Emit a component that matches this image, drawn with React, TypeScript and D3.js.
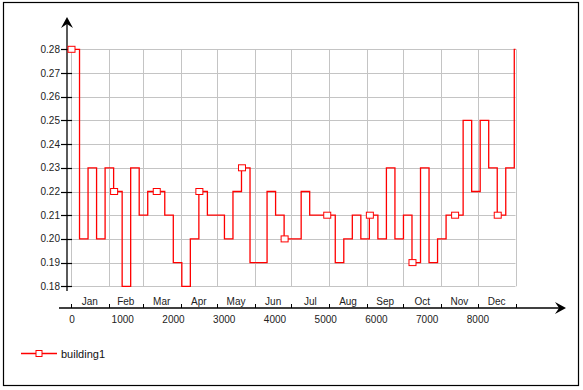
import { useEffect, useRef } from 'react';
import * as d3 from 'd3';

// weekly values, one per 168 hours (last week is a single day)
const weeklyValues = [
    0.28, 0.20, 0.23, 0.20, 0.23, 0.22, 0.18, 0.23, 0.21, 0.22,
    0.22, 0.21, 0.19, 0.18, 0.20, 0.22, 0.21, 0.21, 0.20, 0.22,
    0.23, 0.19, 0.19, 0.22, 0.21, 0.20, 0.20, 0.22, 0.21, 0.21,
    0.21, 0.19, 0.20, 0.21, 0.20, 0.21, 0.20, 0.23, 0.20, 0.21,
    0.19, 0.23, 0.19, 0.20, 0.21, 0.21, 0.25, 0.22, 0.25, 0.23,
    0.21, 0.23, 0.28,
];
const monthNames = ["Jan", "Feb", "Mar", "Apr", "May", "Jun", "Jul", "Aug", "Sep", "Oct", "Nov", "Dec"];
const monthEdges = [0, 744, 1416, 2160, 2880, 3624, 4344, 5088, 5832, 6552, 7296, 8016, 8760];
const hourTicks = [0, 1000, 2000, 3000, 4000, 5000, 6000, 7000, 8000];
const valueTicks = [0.18, 0.19, 0.20, 0.21, 0.22, 0.23, 0.24, 0.25, 0.26, 0.27, 0.28];
const seriesName = "building1";

const HOURS_PER_STEP = 168;
const YEAR_HOURS = 8760;

const App = () => {
    const ref = useRef<SVGSVGElement>(null);

    useEffect(() => {
        const svg = d3.select(ref.current);
        svg.selectAll("*").remove();

        const font = "Arial, 'Liberation Sans', sans-serif";
        const xScale = d3.scaleLinear().domain([0, YEAR_HOURS]).range([71, 515.5]);
        const yScale = d3.scaleLinear().domain([0.18, 0.28]).range([286.3, 49.3]);
        const axisY = 308;
        const axisX = 67;

        // frame
        svg.append("rect")
            .attr("x", 3.5).attr("y", 2.5)
            .attr("width", 575).attr("height", 383)
            .attr("fill", "white").attr("stroke", "black").attr("stroke-width", 1.2);

        // grid
        const grid = svg.append("g").attr("stroke", "#c4c4c4").attr("stroke-width", 1);
        grid.selectAll("line.h").data(valueTicks).enter().append("line")
            .attr("x1", xScale(0)).attr("x2", xScale(YEAR_HOURS))
            .attr("y1", (d) => Math.round(yScale(d)) + 0.5)
            .attr("y2", (d) => Math.round(yScale(d)) + 0.5);
        grid.selectAll("line.v").data(monthEdges).enter().append("line")
            .attr("x1", (d) => Math.round(xScale(d)) + 0.5)
            .attr("x2", (d) => Math.round(xScale(d)) + 0.5)
            .attr("y1", yScale(0.28)).attr("y2", yScale(0.18));

        // y axis
        svg.append("line")
            .attr("x1", axisX).attr("x2", axisX)
            .attr("y1", 22).attr("y2", 291)
            .attr("stroke", "black").attr("stroke-width", 1.3);
        svg.append("path")
            .attr("d", `M${axisX},17 L${axisX - 6},28 L${axisX},24 L${axisX + 6},28 Z`)
            .attr("fill", "black");
        svg.selectAll("line.ytick").data(valueTicks).enter().append("line")
            .attr("x1", axisX - 6).attr("x2", axisX + 5)
            .attr("y1", (d) => Math.round(yScale(d)) + 0.5)
            .attr("y2", (d) => Math.round(yScale(d)) + 0.5)
            .attr("stroke", "black").attr("stroke-width", 1.2);
        svg.selectAll("text.ylab").data(valueTicks).enter().append("text")
            .attr("x", axisX - 7)
            .attr("y", (d) => yScale(d) + 3.5)
            .attr("text-anchor", "end")
            .style("font-family", font).style("font-size", "10px").attr("fill", "#222")
            .text((d) => d3.format(".2f")(d));

        // x axis
        svg.append("line")
            .attr("x1", 59).attr("x2", 562)
            .attr("y1", axisY).attr("y2", axisY)
            .attr("stroke", "black").attr("stroke-width", 1.3);
        svg.append("path")
            .attr("d", `M566,${axisY} L555,${axisY - 6} L559,${axisY} L555,${axisY + 6} Z`)
            .attr("fill", "black");
        svg.selectAll("line.mtick").data(monthEdges).enter().append("line")
            .attr("x1", (d) => Math.round(xScale(d)) + 0.5)
            .attr("x2", (d) => Math.round(xScale(d)) + 0.5)
            .attr("y1", axisY - 4).attr("y2", axisY)
            .attr("stroke", "black").attr("stroke-width", 1);
        svg.selectAll("text.mlab").data(monthNames).enter().append("text")
            .attr("x", (_d, i) => xScale((monthEdges[i] + monthEdges[i + 1]) / 2))
            .attr("y", axisY - 3)
            .attr("text-anchor", "middle")
            .style("font-family", font).style("font-size", "10px").attr("fill", "#222")
            .text((d) => d);
        svg.selectAll("text.hlab").data(hourTicks).enter().append("text")
            .attr("x", (d) => xScale(d) + 1)
            .attr("y", axisY + 15)
            .attr("text-anchor", "middle")
            .style("font-family", font).style("font-size", "10px").attr("fill", "#222")
            .text((d) => String(d));

        // series
        const points: [number, number][] = weeklyValues.map((v, i) => [i * HOURS_PER_STEP, v]);
        points.push([YEAR_HOURS, weeklyValues[weeklyValues.length - 1]]);
        const line = d3.line<[number, number]>()
            .x((d) => xScale(d[0]))
            .y((d) => yScale(d[1]))
            .curve(d3.curveStepAfter);
        svg.append("path")
            .datum(points)
            .attr("d", line)
            .attr("fill", "none")
            .attr("stroke", "#ff0000")
            .attr("stroke-width", 1.3);

        const markerPts = points.filter((_d, i) => i % 5 === 0 && i < weeklyValues.length - 1);
        svg.selectAll("rect.mk").data(markerPts).enter().append("rect")
            .attr("x", (d) => xScale(d[0]) - 3)
            .attr("y", (d) => yScale(d[1]) - 3)
            .attr("width", 7).attr("height", 6)
            .attr("fill", "white").attr("stroke", "#ff0000").attr("stroke-width", 1);

        // legend
        svg.append("line")
            .attr("x1", 21).attr("x2", 57).attr("y1", 353.5).attr("y2", 353.5)
            .attr("stroke", "#ff0000").attr("stroke-width", 1.3);
        svg.append("rect")
            .attr("x", 36).attr("y", 350.5).attr("width", 6).attr("height", 6)
            .attr("fill", "white").attr("stroke", "#ff0000").attr("stroke-width", 1);
        svg.append("text")
            .attr("x", 61).attr("y", 357.5)
            .style("font-family", font).style("font-size", "11px").attr("fill", "#111")
            .text(seriesName);
    }, []);

    return (
        <svg ref={ref} width={583} height={390}
            style={{ position: "absolute", left: 0, top: 0 }} />
    );
};

export default App;
